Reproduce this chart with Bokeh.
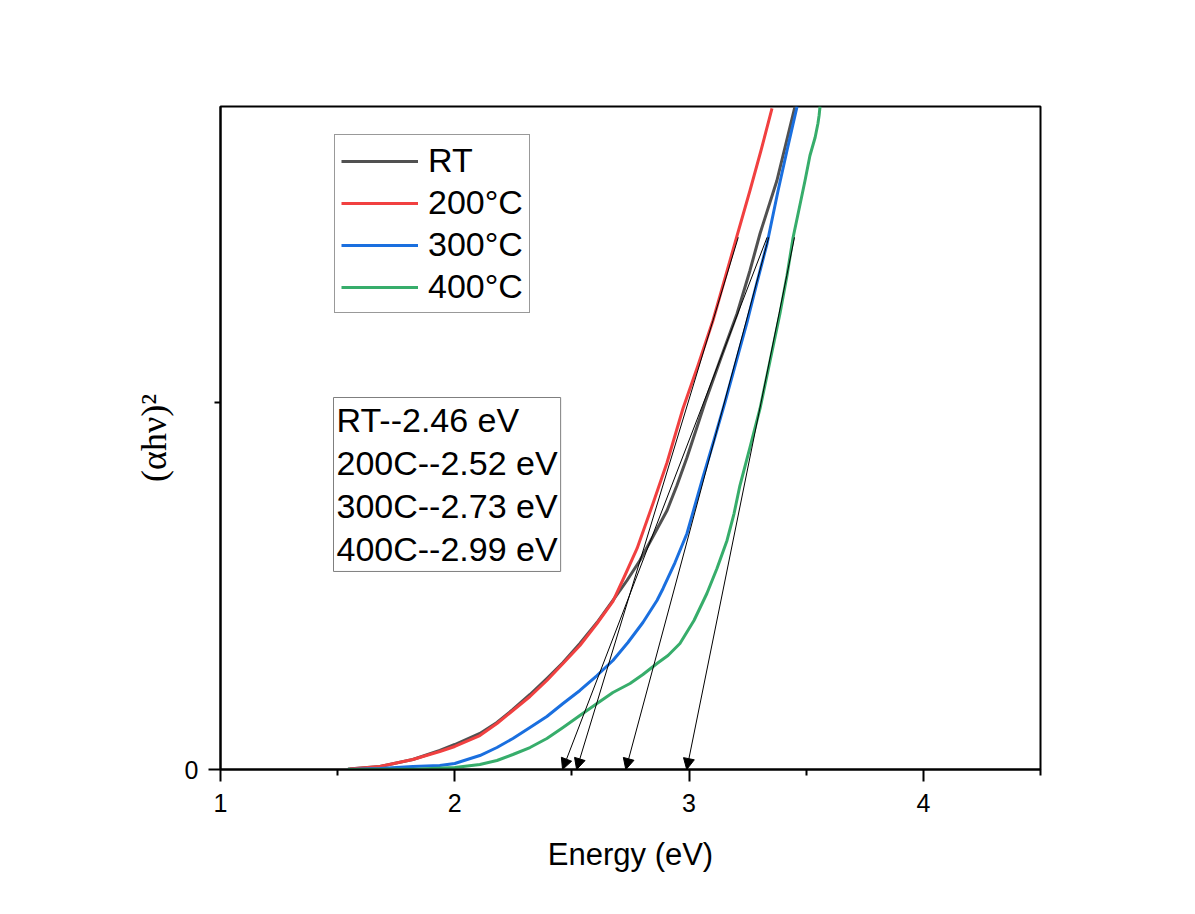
from bokeh.plotting import figure
from bokeh.models import (Range1d, FixedTicker, Legend, LegendItem, Arrow,
                          NormalHead, Label, ColumnDataSource)
from bokeh.embed import file_html
from bokeh.resources import INLINE

# ---------------- data ----------------
series_names = ["RT", "200°C", "300°C", "400°C"]
series_colors = ["#515151", "#F14040", "#1A6FDF", "#37AD6B"]

rt_energy = [1.544, 1.680, 1.821, 1.936, 2.000, 2.107, 2.180, 2.248, 2.321, 2.393,
             2.462, 2.534, 2.607, 2.675, 2.735, 2.790, 2.846, 2.906, 2.948, 2.991,
             3.029, 3.068, 3.132, 3.205, 3.260, 3.303, 3.375, 3.452]
rt_signal = [0.0014, 0.0082, 0.0272, 0.0518, 0.0681, 0.0981, 0.1281, 0.1635,
             0.2044, 0.2480, 0.2916, 0.3433, 0.4005, 0.4605, 0.5150, 0.5695,
             0.6349, 0.7057, 0.7738, 0.8501, 0.9237, 1.0000, 1.1144, 1.2425,
             1.3597, 1.4605, 1.6049, 1.8065]

t200_energy = [1.552, 1.680, 1.821, 1.936, 2.000, 2.107, 2.180, 2.248, 2.321, 2.393,
               2.462, 2.534, 2.607, 2.675, 2.726, 2.778, 2.846, 2.906, 2.974, 3.038,
               3.102, 3.153, 3.205, 3.260, 3.307, 3.354]
t200_signal = [0.0014, 0.0082, 0.0272, 0.0490, 0.0627, 0.0926, 0.1253, 0.1608,
               0.1989, 0.2425, 0.2888, 0.3379, 0.3978, 0.4578, 0.5286, 0.6022,
               0.7248, 0.8365, 0.9837, 1.1008, 1.2234, 1.3379, 1.4550, 1.5777,
               1.6866, 1.8011]

t300_energy = [1.544, 1.680, 1.821, 1.936, 2.000, 2.107, 2.180, 2.248, 2.321, 2.393,
               2.462, 2.534, 2.607, 2.675, 2.739, 2.803, 2.863, 2.889, 2.940, 2.991,
               3.025, 3.059, 3.106, 3.153, 3.200, 3.247, 3.290, 3.333, 3.380, 3.418,
               3.461]
t300_signal = [0.0, 0.0027, 0.0082, 0.0109, 0.0163, 0.0381, 0.0599, 0.0845,
               0.1144, 0.1444, 0.1798, 0.2153, 0.2561, 0.2970, 0.3460, 0.4005,
               0.4605, 0.4932, 0.5640, 0.6431, 0.7193, 0.7956, 0.8965, 1.0000,
               1.1090, 1.2180, 1.3270, 1.4332, 1.5777, 1.6866, 1.8065]

t400_energy = [1.544, 1.851, 2.000, 2.107, 2.180, 2.248, 2.321, 2.393, 2.462, 2.534,
               2.607, 2.675, 2.748, 2.803, 2.863, 2.910, 2.961, 3.021, 3.076, 3.119,
               3.162, 3.192, 3.217, 3.260, 3.303, 3.346, 3.388, 3.418, 3.444, 3.470,
               3.495, 3.516, 3.538, 3.550, 3.555, 3.559]
t400_signal = [0.0, 0.0014, 0.0054, 0.0136, 0.0245, 0.0409, 0.0599, 0.0845,
               0.1144, 0.1471, 0.1798, 0.2098, 0.2343, 0.2589, 0.2888, 0.3106,
               0.3433, 0.4060, 0.4796, 0.5477, 0.6240, 0.6975, 0.7738, 0.8774,
               0.9837, 1.1144, 1.2425, 1.3460, 1.4496, 1.5286, 1.6049, 1.6730,
               1.7221, 1.7602, 1.7820, 1.8065]

gap_labels = ["RT", "200C", "300C", "400C"]
gap_values = [2.46, 2.52, 2.73, 2.99]
tangent_start_energy = [3.333, 3.210, 3.340, 3.450]
tangent_start_signal = [1.45, 1.45, 1.45, 1.45]

x_major_ticks = [1, 2, 3, 4]
x_minor_ticks = [1.5, 2.5, 3.5, 4.5]
y_major_ticks = [0, 2]
y_minor_ticks = [1]

# ---------------- figure ----------------
FONT = "Liberation Sans"
p = figure(width=1179, height=898, output_backend="svg", toolbar_location=None,
           x_range=Range1d(1, 4.5), y_range=Range1d(0, 1.8065),
           min_border_left=220, min_border_right=139,
           min_border_top=106, min_border_bottom=129,
           background_fill_color="white", border_fill_color="white")
p.grid.visible = False
p.outline_line_color = "black"
p.outline_line_width = 2
p.outline_line_alpha = 1.0

p.xaxis.ticker = FixedTicker(ticks=x_major_ticks, minor_ticks=x_minor_ticks)
p.yaxis.ticker = FixedTicker(ticks=y_major_ticks, minor_ticks=y_minor_ticks)

for ax in (p.xaxis, p.yaxis):
    ax.axis_line_width = 2
    ax.axis_line_color = "black"
    ax.major_tick_line_width = 2
    ax.major_tick_line_color = "black"
    ax.minor_tick_line_width = 2
    ax.minor_tick_line_color = "black"
    ax.major_tick_out = 12
    ax.major_tick_in = 0
    ax.minor_tick_out = 6
    ax.minor_tick_in = 0
    ax.major_label_text_font = FONT
    ax.major_label_text_font_size = "25px"
    ax.major_label_text_color = "black"

p.xaxis.major_label_standoff = 12
p.xaxis.axis_label = "Energy (eV)"
p.xaxis.axis_label_text_font = FONT
p.xaxis.axis_label_text_font_size = "31px"
p.xaxis.axis_label_text_font_style = "normal"
p.xaxis.axis_label_text_color = "black"
p.xaxis.axis_label_standoff = 22

p.yaxis.axis_label = "(αhν)²"
p.yaxis.axis_label_text_font = "Liberation Serif"
p.yaxis.axis_label_text_font_size = "36px"
p.yaxis.axis_label_text_font_style = "normal"
p.yaxis.axis_label_text_color = "black"
p.yaxis.axis_label_standoff = 8
p.yaxis.major_label_standoff = 10

all_energy = [rt_energy, t200_energy, t300_energy, t400_energy]
all_signal = [rt_signal, t200_signal, t300_signal, t400_signal]

items = []
for name, col, xs, ys in zip(series_names, series_colors, all_energy, all_signal):
    r = p.line(xs, ys, line_color=col, line_width=3, line_join="round")
    items.append(LegendItem(label=name, renderers=[r]))

legend = Legend(items=items, location=(114, 456), margin=0, padding=6,
                spacing=3, glyph_width=77, glyph_height=30, label_standoff=10,
                label_text_font=FONT, label_text_font_size="34px",
                label_text_color="black", border_line_color="#333333",
                border_line_width=1.5, background_fill_color="white",
                background_fill_alpha=1.0)
p.add_layout(legend)

arrow_src = ColumnDataSource(dict(x0=tangent_start_energy, y0=tangent_start_signal,
                                  x1=gap_values, y1=[0.0] * len(gap_values)))
p.add_layout(Arrow(end=NormalHead(size=11, fill_color="black", line_color="black",
                                  line_width=1),
                   x_start="x0", y_start="y0", x_end="x1", y_end="y1",
                   source=arrow_src, line_color="black", line_width=1))

gap_text = "\n".join(f"{lab}--{val:.2f} eV" for lab, val in zip(gap_labels, gap_values))
p.add_layout(Label(x=113, y=372, x_units="screen", y_units="screen",
                   text=gap_text, text_font=FONT, text_font_size="34px",
                   text_align="left", text_baseline="top", text_line_height=1.14,
                   text_color="black", border_line_color="#7f7f7f",
                   border_line_width=1, background_fill_color="white",
                   padding=3))

open("out.html", "w").write(file_html(p, INLINE))
